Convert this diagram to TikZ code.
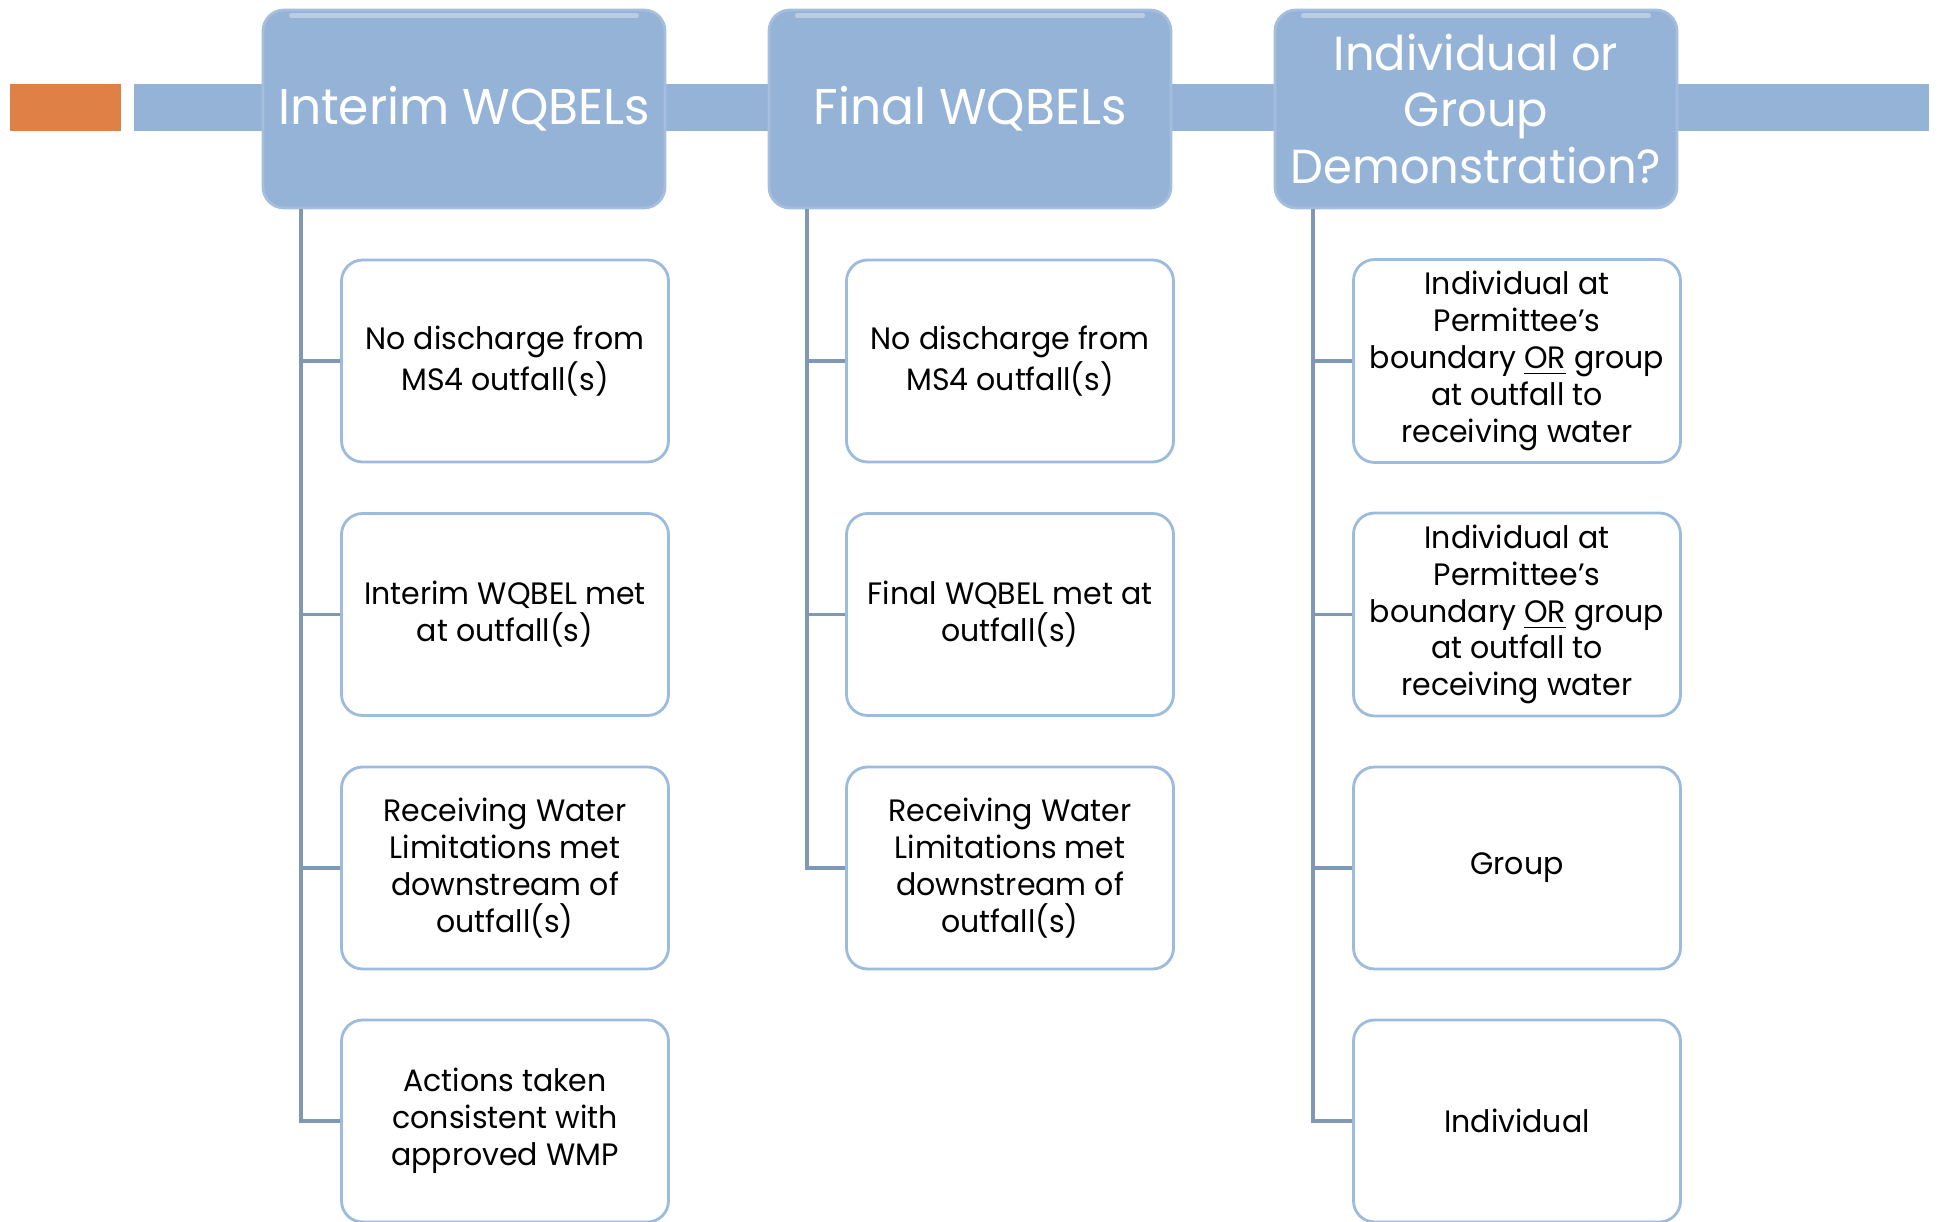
\documentclass[tikz,border=0pt]{standalone}
\usepackage{fontspec}
\setmainfont{Poppins}[FakeStretch=0.97]
\definecolor{headblue}{HTML}{95B3D7}
\definecolor{lineblue}{HTML}{7F99B5}
\definecolor{boxedge}{HTML}{9DBBDD}
\definecolor{barorange}{HTML}{DF8146}

\begin{document}
\begin{tikzpicture}[
    header/.style={rectangle, rounded corners=6pt, fill=headblue, draw=headblue!85!white,
      line width=0.8pt, inner xsep=1pt, minimum width=4.02cm, minimum height=1.98cm,
      align=center, text=white, font=\fontsize{14.3}{16.2}\selectfont},
    item/.style={rectangle, rounded corners=6pt, fill=white, draw=boxedge, line width=0.8pt,
      minimum width=3.27cm, minimum height=2.02cm, align=center,
      font=\fontsize{8.8}{10.5}\selectfont},
    link/.style={draw=lineblue, line width=1.1pt}
  ]
    \useasboundingbox (0, 0) rectangle (19.39, -12.22);

    % ---------------------------------------------
    % band behind the headers
    \fill[barorange] (0.10, -0.84) rectangle (1.21, -1.31);
    \fill[headblue] (1.34, -0.84) rectangle (19.29, -1.31);

    % headers
    \node[header] (h1) at (4.64, -1.09) {Interim WQBELs};
    \node[header] (h2) at (9.70, -1.09) {Final WQBELs};
    \node[header, font=\fontsize{13.6}{16.2}\selectfont] (h3) at (14.76, -1.09)
      {Individual or\\Group\\Demonstration?};
    \foreach \h in {h1, h2, h3}
      \draw[white, opacity=0.35, line width=1.5pt, line cap=round]
        ([xshift=3mm, yshift=-2pt]\h.north west) -- ([xshift=-3mm, yshift=-2pt]\h.north east);

    % interim column
    \node[item] (c11) at (5.05, -3.61) {No discharge from\\MS4 outfall(s)};
    \node[item] (c12) at (5.05, -6.145) {Interim WQBEL met\\at outfall(s)};
    \node[item] (c13) at (5.05, -8.68) {Receiving Water\\Limitations met\\downstream of\\outfall(s)};
    \node[item] (c14) at (5.05, -11.21) {Actions taken\\consistent with\\approved WMP};

    % final column
    \node[item] (c21) at (10.10, -3.61) {No discharge from\\MS4 outfall(s)};
    \node[item] (c22) at (10.10, -6.145) {Final WQBEL met at\\outfall(s)};
    \node[item] (c23) at (10.10, -8.68) {Receiving Water\\Limitations met\\downstream of\\outfall(s)};

    % demonstration column
    \node[item] (c31) at (15.17, -3.61) {Individual at\\Permittee’s\\boundary \underline{OR} group\\at outfall to\\receiving water};
    \node[item] (c32) at (15.17, -6.145) {Individual at\\Permittee’s\\boundary \underline{OR} group\\at outfall to\\receiving water};
    \node[item] (c33) at (15.17, -8.68) {Group};
    \node[item] (c34) at (15.17, -11.21) {Individual};

    % trunks and stubs
    \draw[link] ([xshift=3.9mm]h1.south west) |- (c14.west);
    \foreach \c in {c11, c12, c13}
      \draw[link] ([xshift=3.9mm]h1.south west |- \c.west) -- (\c.west);
    \draw[link] ([xshift=3.9mm]h2.south west) |- (c23.west);
    \foreach \c in {c21, c22}
      \draw[link] ([xshift=3.9mm]h2.south west |- \c.west) -- (\c.west);
    \draw[link] ([xshift=3.9mm]h3.south west) |- (c34.west);
    \foreach \c in {c31, c32, c33}
      \draw[link] ([xshift=3.9mm]h3.south west |- \c.west) -- (\c.west);

  \end{tikzpicture}
\end{document}
